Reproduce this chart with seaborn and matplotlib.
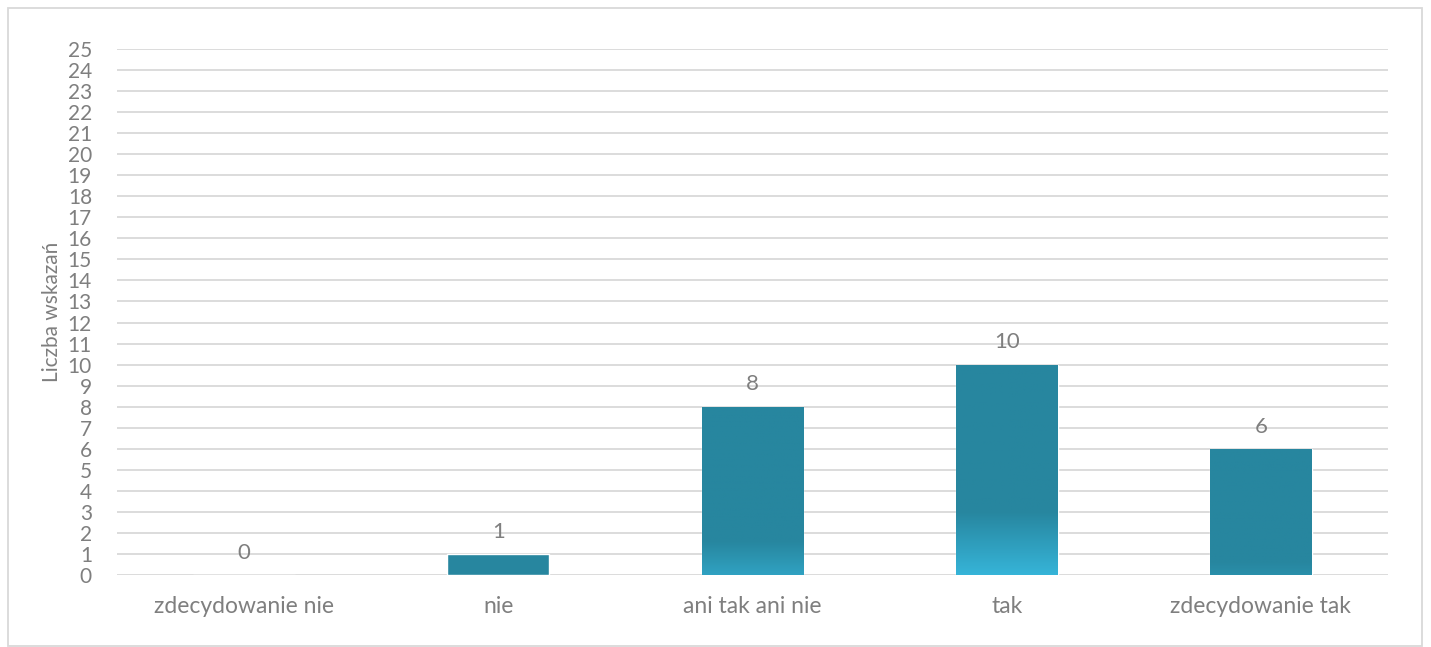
import numpy as np
import pandas as pd
import matplotlib
matplotlib.use("Agg")
import matplotlib.pyplot as plt
import seaborn as sns
from matplotlib.colors import LinearSegmentedColormap
from matplotlib.patches import Rectangle

categories = ["zdecydowanie nie", "nie", "ani tak ani nie", "tak", "zdecydowanie tak"]
counts = [0, 1, 8, 10, 6]
y_ticks = list(range(0, 26))

df = pd.DataFrame({"odp": categories, "n": counts})

sns.set_style("white")
plt.rcParams["font.family"] = ["Lato", "DejaVu Sans"]

text_col = "#7F7F7F"
bar_col = "#27869F"
light_col = "#36B4D8"

fig = plt.figure(figsize=(14.31, 6.47), dpi=100)
ax = fig.add_axes([117 / 1431, 72 / 647, (1388 - 117) / 1431, (575 - 49) / 647])

sns.barplot(data=df, x="odp", y="n", color=bar_col, width=0.4, saturation=1, ax=ax, zorder=3)

# lighter gradient at the bottom of the taller bars
for p, h in zip(ax.patches, counts):
    strength = min(1.0, max(0.0, (h - 5) / 5))
    if strength == 0:
        continue
    bottom = np.array(matplotlib.colors.to_rgb(bar_col)) * (1 - strength) + np.array(matplotlib.colors.to_rgb(light_col)) * strength
    cmap = LinearSegmentedColormap.from_list("g", [bottom, bar_col])
    frac = 0.25 * strength + 0.05
    grad = np.clip(np.linspace(0, 1, 200) / frac, 0, 1).reshape(-1, 1)
    x0 = p.get_x()
    im = ax.imshow(grad, cmap=cmap, origin="lower", aspect="auto",
                   extent=[x0, x0 + p.get_width(), 0, h], zorder=4)
    im.set_clip_path(p)

for i, h in enumerate(counts):
    ax.annotate(str(h), (i, h), xytext=(0, 16), textcoords="offset points",
                ha="center", va="center", color=text_col, fontsize=16)

ax.set_xlim(-0.5, 4.5)
ax.set_ylim(0, 25)
ax.set_yticks(y_ticks)
ax.grid(axis="y", color="#D9D9D9", linewidth=1.3, zorder=0)
ax.set_axisbelow(True)
sns.despine(ax=ax, left=True, bottom=True)
ax.tick_params(axis="both", length=0, colors=text_col)
ax.tick_params(axis="y", pad=18, labelsize=15)
ax.tick_params(axis="x", pad=15, labelsize=16.5)
ax.set_xlabel("")
ax.set_ylabel("Liczba wskazań", color=text_col, fontsize=15, labelpad=4)

fig.patches.append(Rectangle((8 / 1431, 1 / 647), 1414 / 1431, 638 / 647,
                             transform=fig.transFigure, fill=False,
                             edgecolor="#D9D9D9", linewidth=1.3))

fig.savefig("out.png", dpi=100)
